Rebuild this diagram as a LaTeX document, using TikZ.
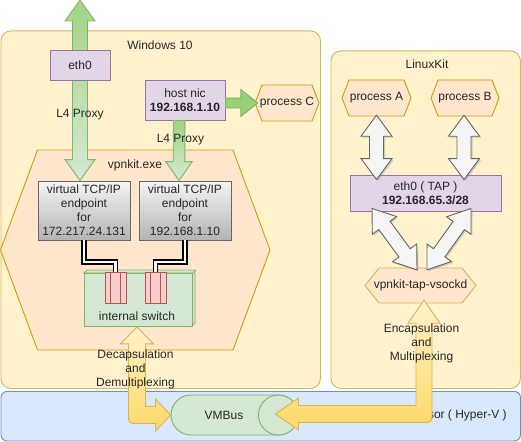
\documentclass[tikz,border=0pt]{standalone}
\usepackage{fontspec}
\setmainfont{Liberation Sans}
\usetikzlibrary{calc,shadows}
\definecolor{cYel}{HTML}{FFF2CC}
\definecolor{cYelD}{HTML}{D6B656}
\definecolor{cYelG}{HTML}{FFD966}
\definecolor{cBlue}{HTML}{DAE8FC}
\definecolor{cBlueD}{HTML}{6C8EBF}
\definecolor{cPur}{HTML}{E1D5E7}
\definecolor{cPurD}{HTML}{9673A6}
\definecolor{cOr}{HTML}{FFE6CC}
\definecolor{cOrD}{HTML}{D79B00}
\definecolor{cGr}{HTML}{D5E8D4}
\definecolor{cGrD}{HTML}{82B366}
\definecolor{cGrG}{HTML}{97D077}
\definecolor{cRed}{HTML}{F8CECC}
\definecolor{cRedD}{HTML}{B85450}
\definecolor{cGray}{HTML}{F5F5F5}
\definecolor{cGrayD}{HTML}{666666}
\definecolor{cGrayG}{HTML}{B3B3B3}
\tikzset{
 txt/.style={font=\fontsize{12pt}{14pt}\selectfont, text=black!85, align=center, inner sep=0pt},
 bline/.style={line width=0.9pt},
 container/.style={bline, fill=cYel, draw=cYelD, rounded corners=10pt, inner sep=0pt},
 hvbox/.style={bline, fill=cBlue, draw=cBlueD, rounded corners=6pt, inner sep=0pt},
 purplebox/.style={txt, bline, fill=cPur, draw=cPurD},
 orangehex/.style={bline, fill=cOr, draw=cOrD},
 yelhex/.style={bline, fill=cOr, draw=cYelD},
 bighex/.style={bline, fill=cOr, draw=cOrD},
 endpoint/.style={txt, bline, top color=cGray, bottom color=cGrayG, draw=cGrayD, minimum width=92pt, minimum height=59pt},
 greenshape/.style={bline, fill=cGr, draw=cGrD},
 port/.style={bline, fill=cRed, draw=cRedD, minimum width=21pt, minimum height=31pt, inner sep=0pt},
 portline/.style={bline, draw=cRedD},
 link/.style={draw=black, line width=1.5pt, double=white, double distance=2.6pt},
 greenarrow/.style={bline, draw=cGrD, top color=cGrG!90!white, bottom color=cGr},
 greenarrowh/.style={bline, draw=cGrD, fill=cGrG},
 grayarrow/.style={bline, draw=cGrayD, fill=cGray, drop shadow={shadow xshift=1.5pt, shadow yshift=-1.5pt, opacity=0.35}},
 yelarrow/.style={bline, draw=cYelD, top color=cYel, bottom color=cYelG},
}
% #1 style, #2 start, #3 end, #4 shaft half width, #5 head half width, #6 head length
\newcommand{\dblarrow}[6]{%
 \path (#2) coordinate (aA) (#3) coordinate (aB);
 \path ($(aA)!#6!(aB)$) coordinate (aH1) ($(aB)!#6!(aA)$) coordinate (aH2);
 \path[#1] (aA) -- ($(aH1)!#5!90:(aB)$) -- ($(aH1)!#4!90:(aB)$) -- ($(aH2)!#4!90:(aB)$) -- ($(aH2)!#5!90:(aB)$) -- (aB) -- ($(aH2)!#5!-90:(aB)$) -- ($(aH2)!#4!-90:(aB)$) -- ($(aH1)!#4!-90:(aB)$) -- ($(aH1)!#5!-90:(aB)$) -- cycle;
}
\newcommand{\sglarrow}[6]{%
 \path (#2) coordinate (aA) (#3) coordinate (aB);
 \path ($(aB)!#6!(aA)$) coordinate (aH2);
 \path[#1] ($(aA)!#4!90:(aB)$) -- ($(aH2)!#4!90:(aB)$) -- ($(aH2)!#5!90:(aB)$) -- (aB) -- ($(aH2)!#5!-90:(aB)$) -- ($(aH2)!#4!-90:(aB)$) -- ($(aA)!#4!-90:(aB)$) -- cycle;
}
% #1 style #2 name #3 x1 #4 y1 #5 x2 #6 y2 #7 indent #8 text
\newcommand{\hexbox}[8]{%
 \path[#1] (#3,{(#4+#6)/2}) -- ({#3+#7},#4) -- ({#5-#7},#4) -- (#5,{(#4+#6)/2}) -- ({#5-#7},#6) -- ({#3+#7},#6) -- cycle;
 \node[txt, minimum width={(#5-#3)*1pt}, minimum height={(#6-#4)*1pt}] (#2) at ({(#3+#5)/2},{(#4+#6)/2}) {#8};
}
\begin{document}
\begin{tikzpicture}[x=1pt,y=-1pt]
\useasboundingbox (0,0) rectangle (521,441);
% containers
\node[container, anchor=north west, minimum width=319.5pt, minimum height=357.5pt] (win) at (0.5,30.5) {};
\node[txt] (winlbl) at (160,45) {Windows 10};
\node[container, anchor=north west, minimum width=189.5pt, minimum height=337.5pt] (lk) at (330.5,50.5) {};
\node[txt] (lklbl) at (427,64) {LinuxKit};
\node[hvbox, anchor=north west, minimum width=519.5pt, minimum height=49.5pt] (hv) at (0.5,391) {};
\node[txt] (hvlbl) at (447,415) {Hypervisor ( Hyper-V )};

% vpnkit.exe
\hexbox{bighex}{vpnkit}{0.5}{150}{270}{350}{37}{}
\node[txt] (vpnlbl) at (135,165) {vpnkit.exe};

% endpoints
\node[endpoint] (ep1) at (84,210.5) {virtual TCP/IP\\endpoint\\for\\172.217.24.131};
\node[endpoint] (ep2) at (185,210.5) {virtual TCP/IP\\endpoint\\for\\192.168.1.10};

% internal switch
\path[greenshape] (84,273) -- (87,270) -- (195,270) -- (195,323) -- (192,326) -- (192,273) -- cycle;
\node[greenshape, anchor=north west, minimum width=108pt, minimum height=53pt, inner sep=0pt] (sw) at (84,273) {};
\draw[bline, draw=cGrD] (sw.north east) -- ++(3pt,3pt);
\node[txt] (swlbl) at (137,316) {internal switch};

% ports
\node[port] (p1) at (115.5,287.5) {};
\node[port] (p2) at (155.5,287.5) {};
\foreach \p in {p1,p2} {
 \draw[portline] ([xshift=6pt]\p.north west) -- ([xshift=6pt]\p.south west);
 \draw[portline] ([xshift=-6pt]\p.north east) -- ([xshift=-6pt]\p.south east);
}

% links
\coordinate (busy) at (0,262);
\draw[link] (ep1.south) -- (ep1.south |- busy) -| (p1.north);
\draw[link] (ep2.south) -- (ep2.south |- busy) -| (p2.north);

% Windows boxes and green arrows
\coordinate (topedge) at (80,0);
\dblarrow{greenarrow}{topedge}{ep1.north -| topedge}{7.5pt}{15pt}{21pt}
\node[purplebox, minimum width=60pt, minimum height=30pt] (eth0) at (80,65) {eth0};
\node[purplebox, minimum width=80pt, minimum height=40pt] (hostnic) at (185,100) {host nic\\\textbf{192.168.1.10}};
\coordinate (hnx) at (179,0);
\sglarrow{greenarrow}{hostnic.south -| hnx}{ep2.north -| hnx}{5.8pt}{13.3pt}{19pt}
\hexbox{orangehex}{procC}{255}{85}{319}{121}{7}{process C}
\sglarrow{greenarrowh}{hostnic.east |- procC}{$(procC.west)+(3,0)$}{5pt}{13.5pt}{17pt}
\node[txt] (l4a) at (80,115) {L4 Proxy};
\node[txt] (l4b) at (180.5,140) {L4 Proxy};

% LinuxKit
\hexbox{orangehex}{procA}{342}{80}{411}{116}{7}{process A}
\hexbox{orangehex}{procB}{431}{80}{499}{116}{7}{process B}
\node[purplebox, minimum width=151pt, minimum height=36pt] (tap) at (425.5,193) {eth0 ( TAP )\\\textbf{192.168.65.3/28}};
\hexbox{yelhex}{vsockd}{365}{268}{476}{303}{14}{vpnkit-tap-vsockd}
\dblarrow{grayarrow}{$(procA.south)+(0,-1)$}{$(tap.north -| procA.south)+(0,5)$}{7pt}{15.5pt}{21pt}
\dblarrow{grayarrow}{$(procB.south)+(-1,-1)$}{$(tap.north -| procB.south)+(-1,5)$}{7pt}{15.5pt}{21pt}
\dblarrow{grayarrow}{$(tap.south)+(-53.5,-3)$}{$(vsockd.north)+(-3.5,2)$}{7pt}{15pt}{21pt}
\dblarrow{grayarrow}{$(tap.south)+(45.5,-3)$}{$(vsockd.north)+(6.5,2)$}{7pt}{15pt}{21pt}

% VMBus
\node[greenshape, rounded corners=20pt, minimum width=127pt, minimum height=40pt, inner sep=0pt] (vmbus) at (234.5,415) {};
\draw[greenshape] ([xshift=-20pt]vmbus.east) circle[radius=20pt];
\node[txt] (vmlbl) at (224,415) {VMBus};

% yellow arrows
\coordinate (T1) at ($(sw.south)+(-1.5,0)$);
\coordinate (V1) at (vmbus.west);
\coordinate (C1) at (T1 |- V1);
\path[yelarrow] (T1) -- ($(T1)+(16.5,17)$) -- ($(T1)+(8.5,17)$) -- ($(C1)+(8.5,-8.5)$) -- ($(V1)+(-15,-8.5)$) -- ($(V1)+(-15,-16)$) -- (V1) -- ($(V1)+(-15,16)$) -- ($(V1)+(-15,8.5)$) -- ($(C1)+(1.5,8.5)$) .. controls ($(C1)+(-8.5,8.5)$) .. ($(C1)+(-8.5,-1.5)$) -- ($(T1)+(-8.5,17)$) -- ($(T1)+(-16.5,17)$) -- cycle;

\coordinate (T2) at ($(vsockd.south)+(3.5,-3)$);
\coordinate (V2) at ($(vmbus.east)+(-23,-1)$);
\coordinate (C2) at (T2 |- V2);
\path[yelarrow] (T2) -- ($(T2)+(16,23)$) -- ($(T2)+(8,23)$) -- ($(C2)+(8,-1.5)$) .. controls ($(C2)+(8,8.5)$) .. ($(C2)+(-1.5,8.5)$) -- ($(V2)+(23,8.5)$) -- ($(V2)+(23,16)$) -- (V2) -- ($(V2)+(23,-16)$) -- ($(V2)+(23,-8.5)$) -- ($(C2)+(-8,-8.5)$) -- ($(T2)+(-8,23)$) -- ($(T2)+(-16,23)$) -- cycle;

\node[txt] (declbl) at (135.5,369) {Decapsulation\\and\\Demultiplexing};
\node[txt] (enclbl) at (421.5,343) {Encapsulation\\and\\Multiplexing};
\end{tikzpicture}
\end{document}
